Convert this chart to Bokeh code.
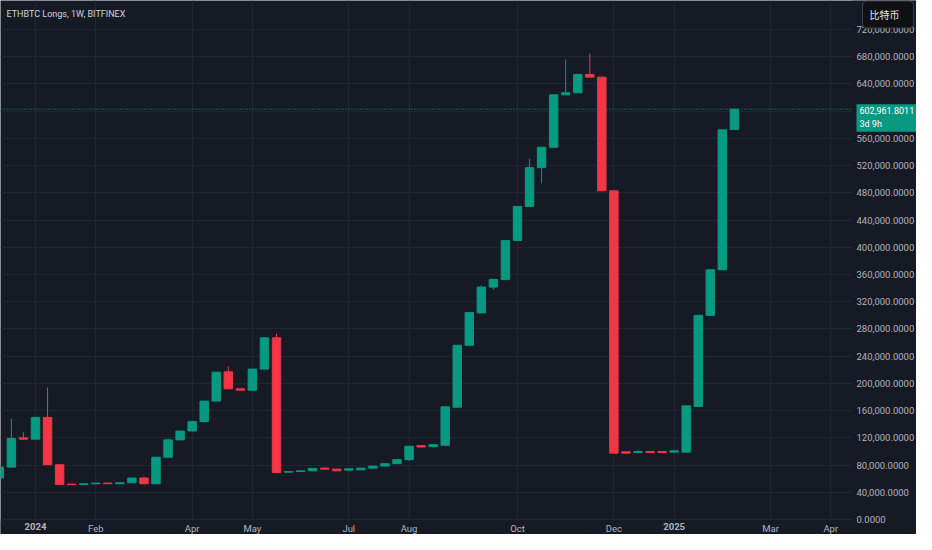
import pandas as pd
from bokeh.plotting import figure
from bokeh.models import (ColumnDataSource, FixedTicker, NumeralTickFormatter, Span, Label,
                          BoxAnnotation)
from bokeh.embed import file_html
from bokeh.resources import INLINE

# ---------------- data (weekly candles, ETHBTC Longs, BITFINEX) ----------------
dates = [
    "2023-12-11", "2023-12-18", "2023-12-25",
    "2024-01-01", "2024-01-08", "2024-01-15", "2024-01-22", "2024-01-29",
    "2024-02-05", "2024-02-12", "2024-02-19", "2024-02-26",
    "2024-03-04", "2024-03-11", "2024-03-18", "2024-03-25",
    "2024-04-01", "2024-04-08", "2024-04-15", "2024-04-22", "2024-04-29",
    "2024-05-06", "2024-05-13", "2024-05-20", "2024-05-27",
    "2024-06-03", "2024-06-10", "2024-06-17", "2024-06-24",
    "2024-07-01", "2024-07-08", "2024-07-15", "2024-07-22", "2024-07-29",
    "2024-08-05", "2024-08-12", "2024-08-19", "2024-08-26",
    "2024-09-02", "2024-09-09", "2024-09-16", "2024-09-23", "2024-09-30",
    "2024-10-07", "2024-10-14", "2024-10-21", "2024-10-28",
    "2024-11-04", "2024-11-11", "2024-11-18", "2024-11-25",
    "2024-12-02", "2024-12-09", "2024-12-16", "2024-12-23", "2024-12-30",
    "2025-01-06", "2025-01-13", "2025-01-20", "2025-01-27",
    "2025-02-03", "2025-02-10",
]
opens = [
    61000, 77000, 120000,
    118000, 150000, 80500, 52000, 51300,
    52500, 53500, 52600, 54000,
    61000, 52500, 91500, 117000,
    130000, 144000, 174000, 217000, 192000,
    190000, 221000, 267000, 69500,
    70500, 71500, 75500, 74000,
    72500, 73000, 75500, 78500, 82000,
    88000, 108500, 107000, 109000,
    165000, 256000, 303500, 341500, 352500,
    410000, 460000, 517000, 547000,
    624000, 627000, 654000, 650000,
    483000, 99500, 98500, 100000, 100000,
    99000, 99000, 166000, 300000,
    367000, 573000,
]
highs = [
    77000, 148000, 128000,
    151000, 194000, 80500, 52000, 52600,
    53600, 53600, 54100, 61000,
    62500, 91500, 119000, 130000,
    144000, 174000, 216500, 225000, 192000,
    221000, 267000, 273000, 70500,
    71500, 75500, 77000, 74000,
    74500, 75500, 78500, 82000, 88000,
    107700, 108500, 110000, 165600,
    256000, 304000, 344000, 352700, 410000,
    460000, 530000, 547000, 624000,
    676000, 654000, 685000, 650000,
    483000, 99500, 102500, 100000, 100000,
    101000, 167000, 300000, 367000,
    572600, 602961.8011,
]
lows = [
    61000, 77000, 117000,
    118000, 80500, 51500, 51300, 51300,
    52500, 52600, 52600, 54000,
    52500, 52500, 91500, 117000,
    130000, 142000, 174000, 192000, 190000,
    190000, 221000, 69000, 69500,
    70500, 71500, 74000, 71500,
    71000, 73000, 75500, 78500, 82000,
    86000, 106500, 107000, 109000,
    165000, 256000, 303500, 338000, 352500,
    410000, 460000, 494000, 547000,
    624000, 627000, 650000, 483000,
    97500, 97500, 98500, 98500, 98500,
    99000, 99000, 166000, 300000,
    367000, 573000,
]
closes = [
    77000, 119000, 118000,
    150000, 80500, 51500, 51300, 52500,
    53500, 52600, 54000, 61000,
    52500, 91500, 117000, 130000,
    144000, 174000, 216500, 192000, 190000,
    221000, 267000, 69000, 70500,
    71500, 75000, 74000, 71500,
    74500, 75500, 78500, 82000, 88000,
    107700, 106500, 110000, 165600,
    256000, 304000, 341500, 352700, 410000,
    460000, 517000, 547000, 624000,
    627000, 654000, 650000, 483000,
    97500, 97500, 100000, 98500, 98500,
    101000, 167000, 300000, 367000,
    572600, 602961.8011,
]

tick_dates = ["2024-01-01", "2024-02-05", "2024-04-01", "2024-05-06", "2024-07-01",
              "2024-08-05", "2024-10-07", "2024-12-02", "2025-01-06", "2025-03-03",
              "2025-04-07"]
tick_labels = ["2024", "Feb", "Apr", "May", "Jul", "Aug", "Oct", "Dec", "2025", "Mar", "Apr"]
year_labels = {"2024", "2025"}

y_ticks = [0, 40000, 80000, 120000, 160000, 200000, 240000, 280000, 320000,
           360000, 400000, 440000, 480000, 520000, 560000, 600000, 640000,
           680000, 720000]

title_text = "ETHBTC Longs, 1W, BITFINEX"
currency_text = "比特币"
countdown_text = "3d 9h"

# ---------------- styling / layout ----------------
BG = "#161a25"
GRID = "#222531"
UP = "#089981"
DOWN = "#f23645"
TXT = "#b2b5be"
FONT = "Roboto"

W, H = 916, 534          # whole canvas is the frame; axes are pinned inside it
PX_X0, PX_PER_WEEK = 35.0, 12.05      # pixel of week 0 and pixels per week
PX_Y0, PX_PER_UNIT = 519.0, 490.0 / 720000.0   # pixel of value 0 and pixels per unit
PLOT_RIGHT_PX, PLOT_BOTTOM_PX = 852.0, 520.0


def k_at(px):
    return (px - PX_X0) / PX_PER_WEEK


def v_at(py):
    return (PX_Y0 - py) / PX_PER_UNIT


origin = pd.Timestamp("2024-01-01")


def week_index(d):
    return (pd.Timestamp(d) - origin).days // 7


xs = [week_index(d) for d in dates]
colors = [UP if c >= o else DOWN for o, c in zip(opens, closes)]
src = ColumnDataSource(dict(x=xs, open=opens, high=highs, low=lows, close=closes, color=colors))

p = figure(frame_width=W, frame_height=H,
           x_range=(k_at(0), k_at(W)), y_range=(v_at(H), v_at(0)),
           y_axis_location="right", output_backend="svg", toolbar_location=None,
           background_fill_color=BG, border_fill_color=BG, outline_line_color=None,
           min_border=0)

p.grid.grid_line_color = GRID
p.grid.grid_line_width = 1

last = closes[-1]
# last price dotted line (under the axis cover)
p.add_layout(Span(location=last, dimension="width", line_color=UP, line_width=1,
                  line_dash="1 2", level="underlay"))

# cover the axis areas so grid lines stop at the plot edge
p.add_layout(BoxAnnotation(left=k_at(PLOT_RIGHT_PX), fill_color=BG, fill_alpha=1,
                           line_color=None, level="underlay"))
p.add_layout(BoxAnnotation(top=v_at(PLOT_BOTTOM_PX), fill_color=BG, fill_alpha=1,
                           line_color=None, level="underlay"))

p.segment(x0="x", y0="low", x1="x", y1="high", line_color="color", line_width=1, source=src)
p.vbar(x="x", width=0.7, top="close", bottom="open", fill_color="color",
       line_color="color", line_width=1, source=src)

# y axis (pinned at the plot's right edge)
p.yaxis.fixed_location = k_at(PLOT_RIGHT_PX)
p.yaxis.ticker = FixedTicker(ticks=[t for t in y_ticks if abs(t - last) > 15000])
p.ygrid.ticker = FixedTicker(ticks=y_ticks)
p.yaxis.formatter = NumeralTickFormatter(format="0,0.0000")
p.yaxis.axis_line_color = None
p.yaxis.major_tick_line_color = None
p.yaxis.minor_tick_line_color = None
p.yaxis.major_tick_out = 0
p.yaxis.major_tick_in = 0
p.yaxis.minor_tick_out = 0
p.yaxis.major_label_text_color = TXT
p.yaxis.major_label_text_font = FONT
p.yaxis.major_label_text_font_size = "9.5px"
p.yaxis.major_label_standoff = 4

# x axis (pinned at the plot's bottom edge)
tick_x = [week_index(d) for d in tick_dates]
p.xaxis.fixed_location = v_at(PLOT_BOTTOM_PX)
p.xaxis.ticker = FixedTicker(ticks=tick_x)
p.xgrid.ticker = FixedTicker(ticks=tick_x)
p.xaxis.major_label_overrides = {tx: ("" if lab in year_labels else lab)
                                 for tx, lab in zip(tick_x, tick_labels)}
p.xaxis.axis_line_color = None
p.xaxis.major_tick_line_color = None
p.xaxis.minor_tick_line_color = None
p.xaxis.major_tick_out = 0
p.xaxis.major_tick_in = 0
p.xaxis.minor_tick_out = 0
p.xaxis.major_label_text_color = TXT
p.xaxis.major_label_text_font = FONT
p.xaxis.major_label_text_font_size = "9.5px"
p.xaxis.major_label_standoff = 2

for tx, lab in zip(tick_x, tick_labels):
    if lab in year_labels:
        p.add_layout(Label(x=tx, y=v_at(PLOT_BOTTOM_PX), text=lab, text_align="center",
                           text_baseline="top", y_offset=-2, text_color=TXT, text_font=FONT,
                           text_font_size="9.5px", text_font_style="bold"))

# title
p.add_layout(Label(x=6, y=13, x_units="canvas", y_units="canvas", text=title_text,
                   text_align="left", text_baseline="middle", text_color="#d1d4dc",
                   text_font=FONT, text_font_size="9px"))

# currency box (top right)
p.add_layout(Label(x=862, y=14, x_units="canvas", y_units="canvas", text=currency_text,
                   text_align="left", text_baseline="middle", text_color="#e6e6e6",
                   text_font="Noto Sans CJK SC", text_font_size="10px",
                   background_fill_color="#0f1014", border_line_color="#3a3e4a",
                   border_line_width=1, padding=dict(left=7, right=14, top=6, bottom=6),
                   border_radius=4))

# last price label
p.add_layout(Label(x=856, y=last, x_units="canvas", y_units="data",
                   text=f"{last:,.4f}\n{countdown_text}", text_align="left",
                   text_baseline="top", y_offset=5, text_color="#ffffff",
                   text_font=FONT, text_font_size="9px", text_line_height=1.25,
                   background_fill_color=UP,
                   padding=dict(left=3, right=3, top=2, bottom=3)))

open("out.html", "w").write(file_html(p, INLINE))
